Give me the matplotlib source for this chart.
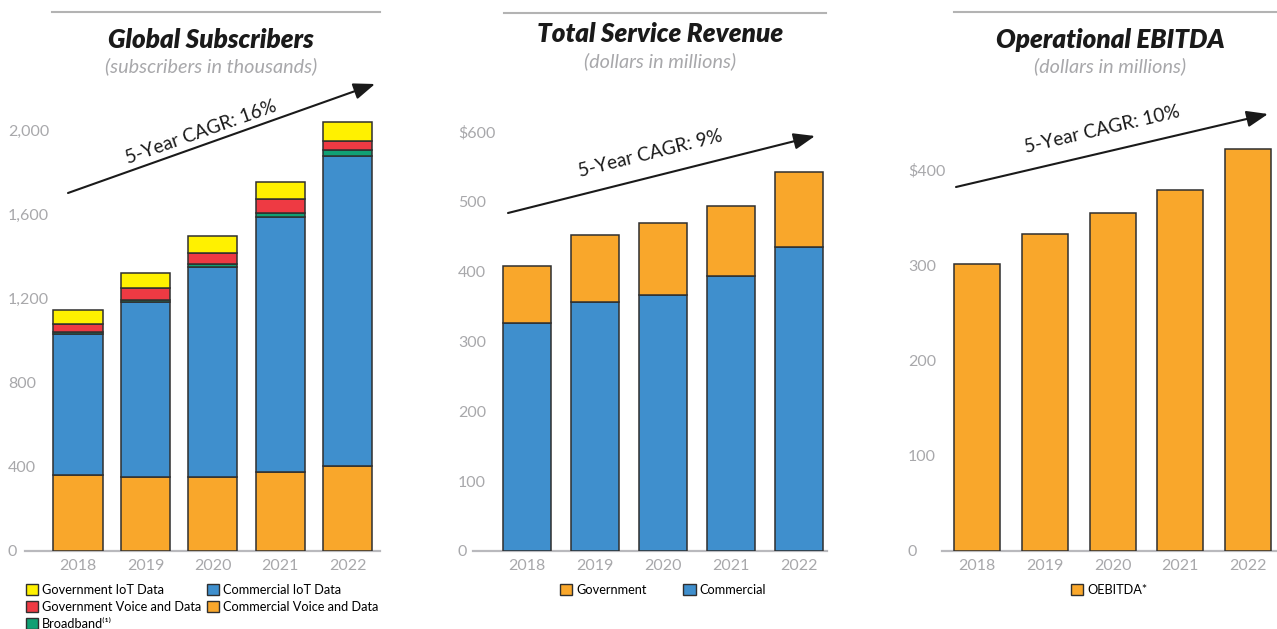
import matplotlib
matplotlib.use("Agg")
import matplotlib.pyplot as plt
from matplotlib.patches import Patch, FancyArrowPatch
from matplotlib.lines import Line2D
import numpy as np

plt.rcParams['font.family'] = ['Lato', 'DejaVu Sans']

years = ["2018", "2019", "2020", "2021", "2022"]

# Global Subscribers (thousands)
commercial_voice = [362, 354, 354, 376, 402]
commercial_iot = [668, 829, 997, 1211, 1478]
broadband = [10, 12, 15, 19, 26]
government_voice = [42, 54, 51, 67, 45]
government_iot = [64, 73, 82, 83, 89]

# Total Service Revenue ($M)
rev_commercial = [326, 357, 366, 394, 436]
rev_government = [82, 96, 104, 100, 106]

# Operational EBITDA ($M)
oebitda = [301, 333, 355, 379, 422]

sub_ticks = [0, 400, 800, 1200, 1600, 2000]
sub_ticklabels = ["0", "400", "800", "1,200", "1,600", "2,000"]
rev_ticks = [0, 100, 200, 300, 400, 500, 600]
rev_ticklabels = ["0", "100", "200", "300", "400", "500", "$600"]
eb_ticks = [0, 100, 200, 300, 400]
eb_ticklabels = ["0", "100", "200", "300", "$400"]

C_ORANGE = "#F9A72B"
C_BLUE = "#3F8FCD"
C_GREEN = "#11A074"
C_RED = "#EE3A43"
C_YELLOW = "#FFF100"
EDGE = "#2f2f2f"
GREY = "#a8a8ab"
AXGREY = "#b9b9bd"

W, H = 1277, 629
fig = plt.figure(figsize=(W / 100, H / 100), dpi=100)


def px_axes(x0, x1, y_bottom, y_top):
    return fig.add_axes([x0 / W, (H - y_bottom) / H, (x1 - x0) / W, (y_bottom - y_top) / H])


def style(ax, ticks, labels, xlim, ylim, label_left_px):
    ax.set_xlim(*xlim)
    ax.set_ylim(*ylim)
    for s in ["top", "right", "left"]:
        ax.spines[s].set_visible(False)
    ax.spines["bottom"].set_color(AXGREY)
    ax.spines["bottom"].set_linewidth(1.6)
    ax.set_xticks(range(len(years)))
    ax.set_xticklabels(years)
    ax.set_yticks(ticks)
    ax.set_yticklabels(labels)
    ax.tick_params(axis="x", length=0, pad=6, labelsize=11.5, labelcolor=GREY)
    bbox = ax.get_position()
    pad_px = bbox.x0 * W - label_left_px
    ax.tick_params(axis="y", length=0, pad=pad_px * 72 / 100, labelsize=11.5, labelcolor=GREY)
    for lbl in ax.get_yticklabels():
        lbl.set_horizontalalignment("left")


x = np.arange(len(years))

# ---------- Panel 1 ----------
ax1 = px_axes(25, 380, 551, 111)
bw1 = 0.73
bottom = np.zeros(len(years))
for vals, col in [(commercial_voice, C_ORANGE), (commercial_iot, C_BLUE), (broadband, C_GREEN),
                  (government_voice, C_RED), (government_iot, C_YELLOW)]:
    ax1.bar(x, vals, bw1, bottom=bottom, color=col, edgecolor=EDGE, linewidth=1.1, zorder=3)
    bottom = bottom + np.array(vals)
style(ax1, sub_ticks, sub_ticklabels, (-0.786, 4.48), (0, 2093), 8)

# ---------- Panel 2 ----------
ax2 = px_axes(473, 827, 551, 118)
bw2 = 0.705
ax2.bar(x, rev_commercial, bw2, color=C_BLUE, edgecolor=EDGE, linewidth=1.1, zorder=3)
ax2.bar(x, rev_government, bw2, bottom=rev_commercial, color=C_ORANGE, edgecolor=EDGE, linewidth=1.1, zorder=3)
style(ax2, rev_ticks, rev_ticklabels, (-0.79, 4.405), (0, 620), 458)

# ---------- Panel 3 ----------
ax3 = px_axes(942, 1277, 551, 132)
bw3 = 0.68
ax3.bar(x, oebitda, bw3, color=C_ORANGE, edgecolor=EDGE, linewidth=1.1, zorder=3)
style(ax3, eb_ticks, eb_ticklabels, (-0.516, 4.425), (0, 440), 908)


def fx(px):
    return px / W


def fy(py):
    return (H - py) / H


# Top rules
for xa, xb, yy in [(52, 380, 12), (504, 826, 13), (954, 1277, 12)]:
    fig.add_artist(Line2D([fx(xa), fx(xb)], [fy(yy), fy(yy)], color="#b3b3b3", lw=1.5))

# Titles
for cx, ty, sy, title, sub in [(211, 40, 66, "Global Subscribers", "(subscribers in thousands)"),
                               (660, 34, 61, "Total Service Revenue", "(dollars in millions)"),
                               (1110, 40, 66, "Operational EBITDA", "(dollars in millions)")]:
    fig.text(fx(cx), fy(ty), title, ha="center", va="center", fontsize=18.7,
             fontweight="heavy", fontstyle="italic", color="#1a1a1a")
    fig.text(fx(cx), fy(sy), sub, ha="center", va="center", fontsize=14.3,
             fontstyle="italic", color=GREY)

# CAGR arrows
for (x0, y0, x1, y1, tx, ty, txt) in [(68, 193, 375, 84, 201, 132, "5-Year CAGR: 16%"),
                                      (508, 213, 815, 136, 650, 154, "5-Year CAGR: 9%"),
                                      (956, 187, 1268, 114, 1102, 130, "5-Year CAGR: 10%")]:
    fig.add_artist(FancyArrowPatch(
        (fx(x0), fy(y0)), (fx(x1), fy(y1)), transform=fig.transFigure,
        arrowstyle="-|>,head_length=13,head_width=5", mutation_scale=1,
        color="#1a1a1a", lw=1.5, shrinkA=0, shrinkB=0))
    ang = np.degrees(np.arctan2(y0 - y1, x1 - x0))
    fig.text(fx(tx), fy(ty), txt, ha="center", va="center", rotation=ang,
             rotation_mode="anchor", fontsize=13.6, color="#1a1a1a")


def handle(col):
    return Patch(facecolor=col, edgecolor=EDGE, linewidth=1.0)


leg_kw = dict(frameon=False, handlelength=0.95, handleheight=0.95, handletextpad=0.3,
              fontsize=9.2, labelspacing=0.40, borderpad=0, borderaxespad=0)

fig.legend([handle(C_YELLOW), handle(C_RED), handle(C_GREEN), handle(C_BLUE), handle(C_ORANGE)],
           ["Government IoT Data", "Government Voice and Data", "Broadband⁽¹⁾",
            "Commercial IoT Data", "Commercial Voice and Data"],
           loc="upper left", bbox_to_anchor=(fx(26), fy(584)), ncol=2, columnspacing=0.45, **leg_kw)

fig.legend([handle(C_ORANGE), handle(C_BLUE)], ["Government", "Commercial"],
           loc="upper left", bbox_to_anchor=(fx(560), fy(584)), ncol=2, columnspacing=2.9, **leg_kw)

fig.legend([handle(C_ORANGE)], ["OEBITDA*"],
           loc="upper left", bbox_to_anchor=(fx(1071), fy(584)), ncol=1, **leg_kw)

fig.savefig("out.png", dpi=100)
